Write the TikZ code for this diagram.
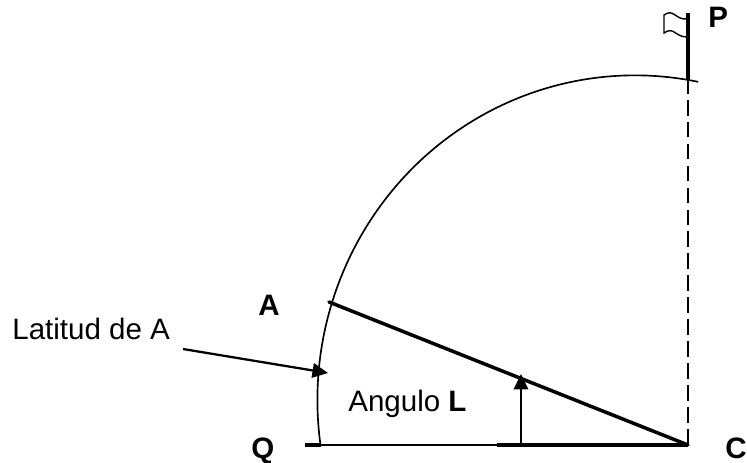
\documentclass[tikz,border=0pt]{standalone}
\usepackage{fontspec}
\setmainfont{Liberation Sans}
\usetikzlibrary{arrows.meta, calc}

\begin{document}
\begin{tikzpicture}[scale=1.0]
  \useasboundingbox (0,0) rectangle (14.94,9.26);
  \tikzset{
    label/.style={anchor=base west, inner sep=0pt, font=\fontsize{16.8}{19}\selectfont},
    labelbold/.style={label, font=\fontsize{16.8}{19}\selectfont\bfseries},
    thin line/.style={line width=0.95pt},
    thick line/.style={line width=2pt},
    pointer/.style={line width=1.3pt, -{Triangle[length=3.1mm, width=2.9mm]}}
  }

  % Points
  \coordinate (C) at (13.76,0.36);
  \coordinate (Q) at (6.10,0.36);
  \coordinate (Qarc) at (6.41,0.36);
  \coordinate (Lend) at (9.94,0.36);
  \coordinate (A) at (6.58,3.22);
  \coordinate (Pole) at (13.76,9.00);
  \coordinate (Ptop) at (13.76,7.66);
  \coordinate (Foot) at (10.42,0.36);
  \coordinate (Hit) at (10.42,1.78);
  \coordinate (Lstart) at (3.66,2.28);
  \coordinate (Ltip) at (6.56,1.80);

  % Arco del meridiano
  \draw[thin line] (Qarc) arc[start angle=188, end angle=78.5, x radius=6.35cm, y radius=6.49cm];

  % Ecuador y radio
  \draw[thin line] (Q) -- (Lend);
  \draw[thick line] (Q) -- (Qarc);
  \draw[thick line] (Lend) -- (C);
  \draw[thick line, line cap=round] (A) -- (C);

  % Eje y bandera
  \draw[thin line, dash pattern=on 9pt off 3.5pt] (C) -- (Ptop);
  \draw[thick line] (Ptop) -- (Pole);
  \draw[line width=0.8pt] (13.74,8.88) .. controls (13.50,8.86) and (13.48,9.10) .. (13.28,8.96)
    -- (13.28,8.60) .. controls (13.48,8.74) and (13.50,8.52) .. (13.74,8.52);

  % Flechas
  \draw[pointer] (Foot) -- (Hit);
  \draw[pointer] (Lstart) -- (Ltip);

  % Textos
  \node[labelbold] (labP) at (14.16,8.70) {P};
  \node[labelbold] (labA) at (5.16,2.94) {A};
  \node[labelbold] (labQ) at (5.02,0.08) {Q};
  \node[labelbold] (labC) at (14.50,0.08) {C};
  \node[label] (labLat) at (0.24,2.46) {Latitud de A};
  \node[label] (labAng) at (6.96,1.02) {Angulo \textbf{L}};
\end{tikzpicture}
\end{document}
